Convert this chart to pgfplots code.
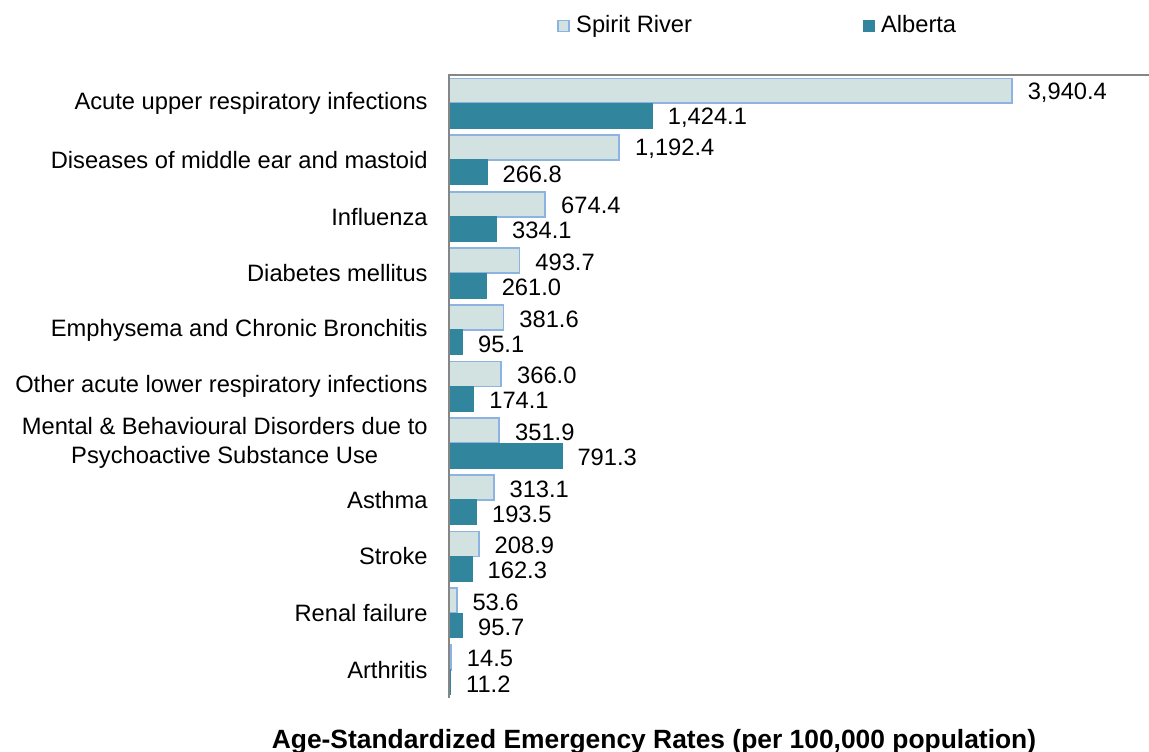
\documentclass[border=0pt]{standalone}
\usepackage{fontspec}
\setmainfont{Liberation Sans}
\usepackage{pgfplots}
\pgfplotsset{compat=1.18}
\usepackage{pgfplotstable}
\definecolor{spfill}{HTML}{D2E2E0}
\definecolor{spdraw}{HTML}{8DB3E2}
\definecolor{abfill}{HTML}{31859C}
\definecolor{axgray}{HTML}{868686}

\pgfplotstableread{
idx sr ab
0 3940.4 1424.1
1 1192.4 266.8
2 674.4 334.1
3 493.7 261.0
4 381.6 95.1
5 366.0 174.1
6 351.9 791.3
7 313.1 193.5
8 208.9 162.3
9 53.6 95.7
10 14.5 11.2
}\datatable

\begin{document}
\fontsize{11.85}{14.3}\selectfont
\begin{tikzpicture}
\begin{axis}[
  at={(0,0)}, anchor=south west, scale only axis,
  width=350pt, height=311.5pt,
  xbar, bar width=0.44,
  xmin=0, xmax=4900, ymin=-0.5, ymax=10.5, y dir=reverse,
  axis line style={draw=none},
  xtick=\empty,
  ytick={0,...,10},
  yticklabels={Acute upper respiratory infections,
    Diseases of middle ear and mastoid,
    Influenza,
    Diabetes mellitus,
    Emphysema and Chronic Bronchitis,
    Other acute lower respiratory infections,
    {Mental \& Behavioural Disorders due to\\Psychoactive Substance Use},
    Asthma,
    Stroke,
    Renal failure,
    Arthritis},
  major tick length=0pt,
  yticklabel style={inner sep=0pt, xshift=-10.5pt, align=center},
  nodes near coords,
  nodes near coords style={anchor=west, inner sep=0pt, xshift=7.5pt, yshift=-0.8pt, black},
  /pgf/number format/fixed,
  /pgf/number format/fixed zerofill,
  /pgf/number format/precision=1,
  /pgf/number format/1000 sep={,},
  /pgf/number format/assume math mode=true,
  legend columns=2,
  legend style={draw=none, fill=none, inner sep=0pt,
    at={(axis description cs:0.1543,1.0787)}, anchor=west,
    nodes={inner sep=0pt},
    /tikz/every odd column/.append style={column sep=3pt},
    /tikz/every even column/.append style={column sep=85.5pt}},
  legend image code/.code={\draw[#1] (0pt,-2.75pt) rectangle (5.5pt,2.75pt);},
  after end axis/.code={
    \draw[axgray, line width=1pt] (axis description cs:0,0) -- (axis description cs:0,1) -- (axis description cs:1,1);
  },
]
\addplot[fill=spfill, draw=spdraw, line width=0.9pt, bar shift=-0.22] table[x=sr, y=idx] {\datatable};
\addlegendentry{Spirit River}
\addplot[fill=abfill, draw=abfill, line width=0.5pt, bar shift=0.22] table[x=ab, y=idx] {\datatable};
\addlegendentry{Alberta}
\end{axis}
\node[anchor=base, font=\fontsize{13.2}{15}\selectfont\bfseries] at (102.5pt,-25pt) {Age-Standardized Emergency Rates (per 100,000 population)};
\pgfresetboundingbox
\path[use as bounding box] (-224.5pt,-26.5pt) rectangle (350pt,349pt);
\end{tikzpicture}
\end{document}
